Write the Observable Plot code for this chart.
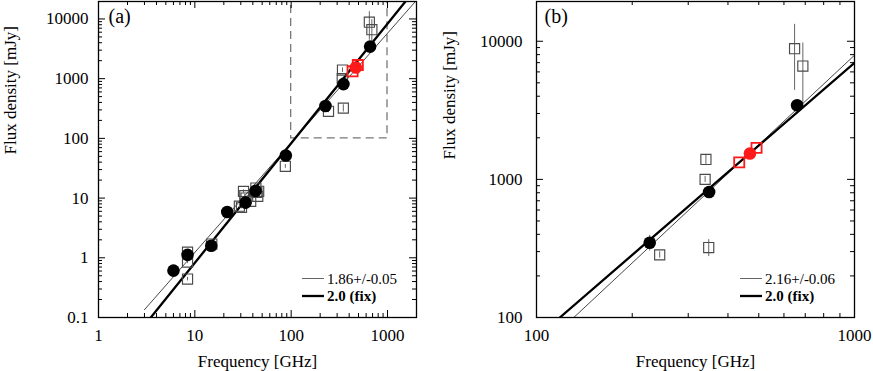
<!DOCTYPE html>
<html><head><meta charset="utf-8">
<script src="https://cdn.jsdelivr.net/npm/d3@7"></script>
<script src="https://cdn.jsdelivr.net/npm/@observablehq/plot@0.6"></script>
<style>
body{margin:0;background:#fff;}
#wrap{display:flex;width:873px;height:371px;overflow:hidden;}
#wrap > div{flex:none;}
svg, svg text{font-family:"Liberation Serif", "Times New Roman", serif !important;}
</style></head><body><div id="wrap"><div id="pa"></div><div id="pb"></div></div>
<script>
// ---- data ----
const circFreq = [6.0, 8.4, 14.8, 21.7, 33.6, 42.7, 88, 227, 349, 660];
const circFlux = [0.61, 1.12, 1.59, 5.83, 8.4, 13.2, 51.7, 348, 810, 3440];
const circErr  = [0.03, 0.06, 0.08, 0.3, 0.4, 0.7, 2.5, 45, 30, 100];
const redCircFreq = [469];
const redCircFlux = [1540];
const sqFreq = [8.4, 8.4, 8.4, 15, 29, 30.5, 32, 33, 34, 38, 43, 44, 45, 46, 87, 244, 339, 341, 348, 648, 688];
const sqFlux = [1.24, 0.85, 0.44, 1.7, 7.3, 7.0, 12.9, 11.0, 10.0, 8.8, 14.7, 12.5, 10.7, 13.0, 34, 284, 1000, 1394, 321, 8830, 6610];
const sqErr  = [0.1, 0.05, 0.03, 0.1, 0.4, 0.4, 0.8, 0.6, 0.6, 0.5, 0.8, 0.7, 0.6, 0.7, 2.5, 15, 50, 120, 45, 4420, 3100];
const redSqFreq = [434, 492];
const redSqFlux = [1327, 1690];
// power-law fit lines, endpoints
const fitAThinFreq = [3.0, 1950],  fitAThinFlux = [0.135, 19600];
const fitAThickFreq = [3.49, 1535], fitAThickFlux = [0.1, 19600];
const fitBThinFreq = [131, 1000],  fitBThinFlux = [100, 7920];
const fitBThickFreq = [118.4, 1000], fitBThickFlux = [100, 6970];
// zoom box shown in (a)
const boxFreq = [100, 1000], boxFlux = [100, 20000];
// ticks
const aXMajor = [1, 10, 100, 1000];
const aXMinor = [2,3,4,5,6,7,8,9,20,30,40,50,60,70,80,90,200,300,400,500,600,700,800,900];
const aYMajor = [0.1, 1, 10, 100, 1000, 10000];
const aYMinor = [0.2,0.3,0.4,0.5,0.6,0.7,0.8,0.9,2,3,4,5,6,7,8,9,20,30,40,50,60,70,80,90,200,300,400,500,600,700,800,900,2000,3000,4000,5000,6000,7000,8000,9000];
const bXMajor = [100, 1000];
const bXMinor = [200,300,400,500,600,700,800,900];
const bYMajor = [100, 1000, 10000];
const bYMinor = [200,300,400,500,600,700,800,900,2000,3000,4000,5000,6000,7000,8000,9000];
const legendA = ["1.86+/-0.05", "2.0 (fix)"];
const legendB = ["2.16+/-0.06", "2.0 (fix)"];

const zip = (f, s, e) => f.map((v, i) => ({f: v, s: s[i], e: e ? e[i] : 0}));
const circ = zip(circFreq, circFlux, circErr);
const redCirc = zip(redCircFreq, redCircFlux);
const sq = zip(sqFreq, sqFlux, sqErr);
const redSq = zip(redSqFreq, redSqFlux);

const FONT = '"Liberation Serif", "Times New Roman", serif';

function tickRules(xs, ys, w, h, len) {
  return [
    Plot.ruleX(xs, {x: d => d, insetTop: h - len, stroke: "#000", strokeWidth: 1}),
    Plot.ruleX(xs, {x: d => d, insetBottom: h - len, stroke: "#000", strokeWidth: 1}),
    Plot.ruleY(ys, {y: d => d, insetRight: w - len, stroke: "#000", strokeWidth: 1}),
    Plot.ruleY(ys, {y: d => d, insetLeft: w - len, stroke: "#000", strokeWidth: 1})
  ];
}

function panel(cfg) {
  const W = cfg.width, H = 371;
  const mt = 1, mb = 54;
  const fw = W - cfg.ml - cfg.mr, fh = H - mt - mb;
  const marks = [];
  if (cfg.box) {
    marks.push(Plot.rect([0], {x1: () => boxFreq[0], x2: () => boxFreq[1], y1: () => boxFlux[0], y2: () => boxFlux[1],
      fill: "none", stroke: "#777", strokeWidth: 1.3, strokeDasharray: "8,5", clip: true}));
  }
  marks.push(
    Plot.line(zip(cfg.thinF, cfg.thinS), {x: "f", y: "s", stroke: "#333", strokeWidth: 0.9, clip: true}),
    Plot.line(zip(cfg.thickF, cfg.thickS), {x: "f", y: "s", stroke: "#000", strokeWidth: 2.3, clip: true}),
    Plot.ruleX(sq, {x: "f", y1: d => d.s - d.e, y2: d => d.s + d.e, stroke: "#666", strokeWidth: 1, clip: true}),
    Plot.ruleX(circ, {x: "f", y1: d => d.s - d.e, y2: d => d.s + d.e, stroke: "#666", strokeWidth: 1, clip: true}),
    Plot.dot(sq, {x: "f", y: "s", symbol: "square", r: 5.7, fill: "none", stroke: "#4a4a4a", strokeWidth: 1.15, clip: true}),
    Plot.dot(redSq, {x: "f", y: "s", symbol: "square", r: 5.7, fill: "none", stroke: "#ff1a1a", strokeWidth: 1.8, clip: true}),
    Plot.dot(circ, {x: "f", y: "s", r: 6.3, fill: "#000", clip: true}),
    Plot.dot(redCirc, {x: "f", y: "s", r: 6.3, fill: "#ff1a1a", clip: true}),
    ...tickRules(cfg.xMajor, cfg.yMajor, fw, fh, 7),
    ...tickRules(cfg.xMinor, cfg.yMinor, fw, fh, 4),
    Plot.frame({stroke: "#000", strokeWidth: 1.3}),
    Plot.text([cfg.tag], {text: d => d, frameAnchor: "top-left", dx: cfg.tagDx, dy: 21, lineAnchor: "bottom", textAnchor: "start", fontSize: 20}),
    Plot.text(["Frequency [GHz]"], {text: d => d, frameAnchor: "bottom", dy: 49, lineAnchor: "bottom", fontSize: 17}),
    Plot.text(["Flux density [mJy]"], {text: d => d, frameAnchor: "left", dx: cfg.ylabDx, dy: cfg.ylabDy, rotate: -90, fontSize: 17})
  );
  const svg = Plot.plot({
    width: W, height: H,
    marginLeft: cfg.ml, marginRight: cfg.mr, marginTop: mt, marginBottom: mb,
    style: `font-family: ${FONT}; font-size: 17px; background: white; color: black;`,
    x: {type: "log", domain: cfg.xDomain, ticks: cfg.xMajor, tickFormat: d => String(d), tickSize: 0, tickPadding: 11, label: null},
    y: {type: "log", domain: cfg.yDomain, ticks: cfg.yMajor, tickFormat: d => String(d), tickSize: 0, tickPadding: cfg.yPad, label: null},
    marks
  });
  // legend (bottom-right, inside the frame)
  const g = d3.select(svg).append("g").attr("font-family", FONT).attr("font-size", 15).attr("text-anchor", "start");
  const lx = cfg.ml + fw - 114;
  const rows = [{y: 278.5, w: 1, c: "#666", bold: false}, {y: 296, w: 2.3, c: "#000", bold: true}];
  rows.forEach((r, i) => {
    g.append("line").attr("x1", lx).attr("x2", lx + 22).attr("y1", r.y).attr("y2", r.y)
      .attr("stroke", r.c).attr("stroke-width", r.w);
    g.append("text").attr("x", lx + 25).attr("y", r.y + 5).attr("fill", "#000").attr("text-anchor", "start")
      .attr("font-weight", r.bold ? "bold" : "normal").text(cfg.legend[i]);
  });
  return svg;
}

document.getElementById("pa").appendChild(panel({
  width: 440, ml: 98, mr: 24, xDomain: [1, 2000], yDomain: [0.1, 19600],
  xMajor: aXMajor, xMinor: aXMinor, yMajor: aYMajor, yMinor: aYMinor, yPad: 10,
  thinF: fitAThinFreq, thinS: fitAThinFlux, thickF: fitAThickFreq, thickS: fitAThickFlux,
  box: true, tag: "(a)", tagDx: 10, ylabDx: -88, ylabDy: -5, legend: legendA
}));
document.getElementById("pb").appendChild(panel({
  width: 433, ml: 96, mr: 19, xDomain: [100, 1000], yDomain: [100, 19400],
  xMajor: bXMajor, xMinor: bXMinor, yMajor: bYMajor, yMinor: bYMinor, yPad: 14,
  thinF: fitBThinFreq, thinS: fitBThinFlux, thickF: fitBThickFreq, thickS: fitBThickFlux,
  box: false, tag: "(b)", tagDx: 8, ylabDx: -87, ylabDy: 0, legend: legendB
}));
</script></body></html>
